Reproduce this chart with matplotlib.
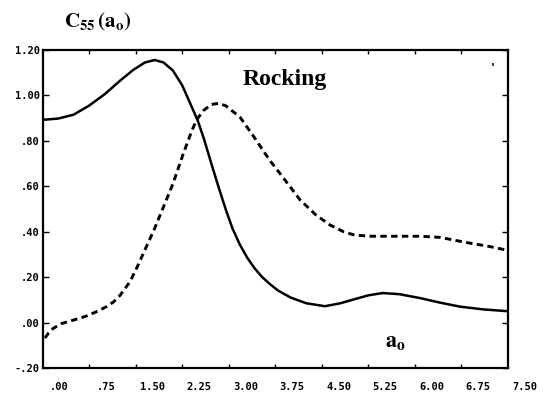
import matplotlib
matplotlib.use("Agg")
import matplotlib.pyplot as plt
import matplotlib.transforms as mtransforms

# ---- data ----
solid_a = [0.02, 0.25, 0.50, 0.75, 1.00, 1.25, 1.46, 1.65, 1.81, 1.95, 2.10, 2.25,
           2.38, 2.50, 2.60, 2.72, 2.85, 2.96, 3.06, 3.18, 3.30, 3.42, 3.54, 3.67,
           3.80, 4.00, 4.25, 4.55, 4.80, 5.03, 5.25, 5.48, 5.75, 6.08, 6.40, 6.73,
           7.10, 7.50]
solid_v = [0.893, 0.898, 0.915, 0.955, 1.005, 1.065, 1.112, 1.145, 1.156, 1.145, 1.110, 1.045,
           0.965, 0.890, 0.810, 0.700, 0.585, 0.492, 0.415, 0.343, 0.285, 0.238, 0.200, 0.168,
           0.140, 0.110, 0.085, 0.072, 0.085, 0.103, 0.120, 0.130, 0.125, 0.108, 0.088, 0.070,
           0.058, 0.050]

dashed_a = [0.04, 0.10, 0.17, 0.30, 0.50, 0.70, 0.87, 1.03, 1.15, 1.25, 1.41, 1.54,
            1.65, 1.80, 1.95, 2.10, 2.27, 2.40, 2.48, 2.60, 2.72, 2.83, 2.95, 3.18,
            3.40, 3.66, 3.90, 4.15, 4.40, 4.63, 4.85, 5.03, 5.30, 5.76, 6.10, 6.41,
            6.65, 6.88, 7.20, 7.50]
dashed_v = [-0.068, -0.045, -0.026, -0.005, 0.011, 0.028, 0.048, 0.070, 0.092, 0.120, 0.180, 0.253,
            0.320, 0.410, 0.510, 0.610, 0.745, 0.840, 0.892, 0.935, 0.960, 0.965, 0.955, 0.905,
            0.820, 0.715, 0.630, 0.540, 0.475, 0.430, 0.400, 0.385, 0.380, 0.380, 0.380, 0.375,
            0.362, 0.350, 0.335, 0.318]

x_ticks = [0.75, 1.50, 2.25, 3.00, 3.75, 4.50, 5.25, 6.00, 6.75]
x_labels = [".00", ".75", "1.50", "2.25", "3.00", "3.75", "4.50", "5.25", "6.00", "6.75", "7.50"]
x_label_vals = [0.00, 0.75, 1.50, 2.25, 3.00, 3.75, 4.50, 5.25, 6.00, 6.75, 7.50]
y_ticks = [-0.20, 0.00, 0.20, 0.40, 0.60, 0.80, 1.00, 1.20]
y_labels = ["-.20", ".00", ".20", ".40", ".60", ".80", "1.00", "1.20"]

W, H = 546, 396
plt.rcParams["mathtext.fontset"] = "stix"
fig = plt.figure(figsize=(W / 100, H / 100), dpi=100)
ax = fig.add_axes([42.5 / W, 28 / H, (508 - 42.5) / W, 318 / H])

ax.plot(solid_a, solid_v, color="black", lw=1.8, solid_capstyle="round",
        solid_joinstyle="round")
ax.plot(dashed_a, dashed_v, color="black", lw=2.1, linestyle=(0, (2.2, 1.5)),
        dash_capstyle="butt")

ax.set_xlim(0, 7.5)
ax.set_ylim(-0.20, 1.20)

for s in ax.spines.values():
    s.set_linewidth(1.6)

tick_font = dict(family="DejaVu Sans Mono", weight="bold", size=7.5)

ax.set_xticks(x_ticks)
ax.set_xticklabels([])
ax.tick_params(axis="x", direction="in", length=3, width=1.0, top=True, bottom=True)

ax.set_yticks(y_ticks)
ax.set_yticklabels(y_labels, **tick_font)
ax.tick_params(axis="y", direction="in", length=4, width=1.0, left=True, right=True, pad=2)

trans = mtransforms.blended_transform_factory(ax.transData, ax.transAxes)
for v, lab in zip(x_label_vals, x_labels):
    ax.text(v + 0.27, -0.06, lab, transform=trans, ha="center", va="center",
            clip_on=False, **tick_font)

fig.text(98 / W, 1 - 22 / H, r"$\mathbf{C_{55}\,(a_o)}$", ha="center", va="center",
         fontsize=15, color="black")
fig.text(285 / W, 1 - 80 / H, "Rocking", ha="center", va="center",
         family="Liberation Serif", weight="bold", fontsize=17, color="black")
fig.text(395 / W, 1 - 343 / H, r"$\mathbf{a_o}$", ha="center", va="center",
         fontsize=16, color="black")
fig.text(493 / W, 1 - 68 / H, "'", ha="center", va="center",
         family="DejaVu Sans", weight="bold", fontsize=9, color="black")

fig.savefig("out.png", dpi=100)
